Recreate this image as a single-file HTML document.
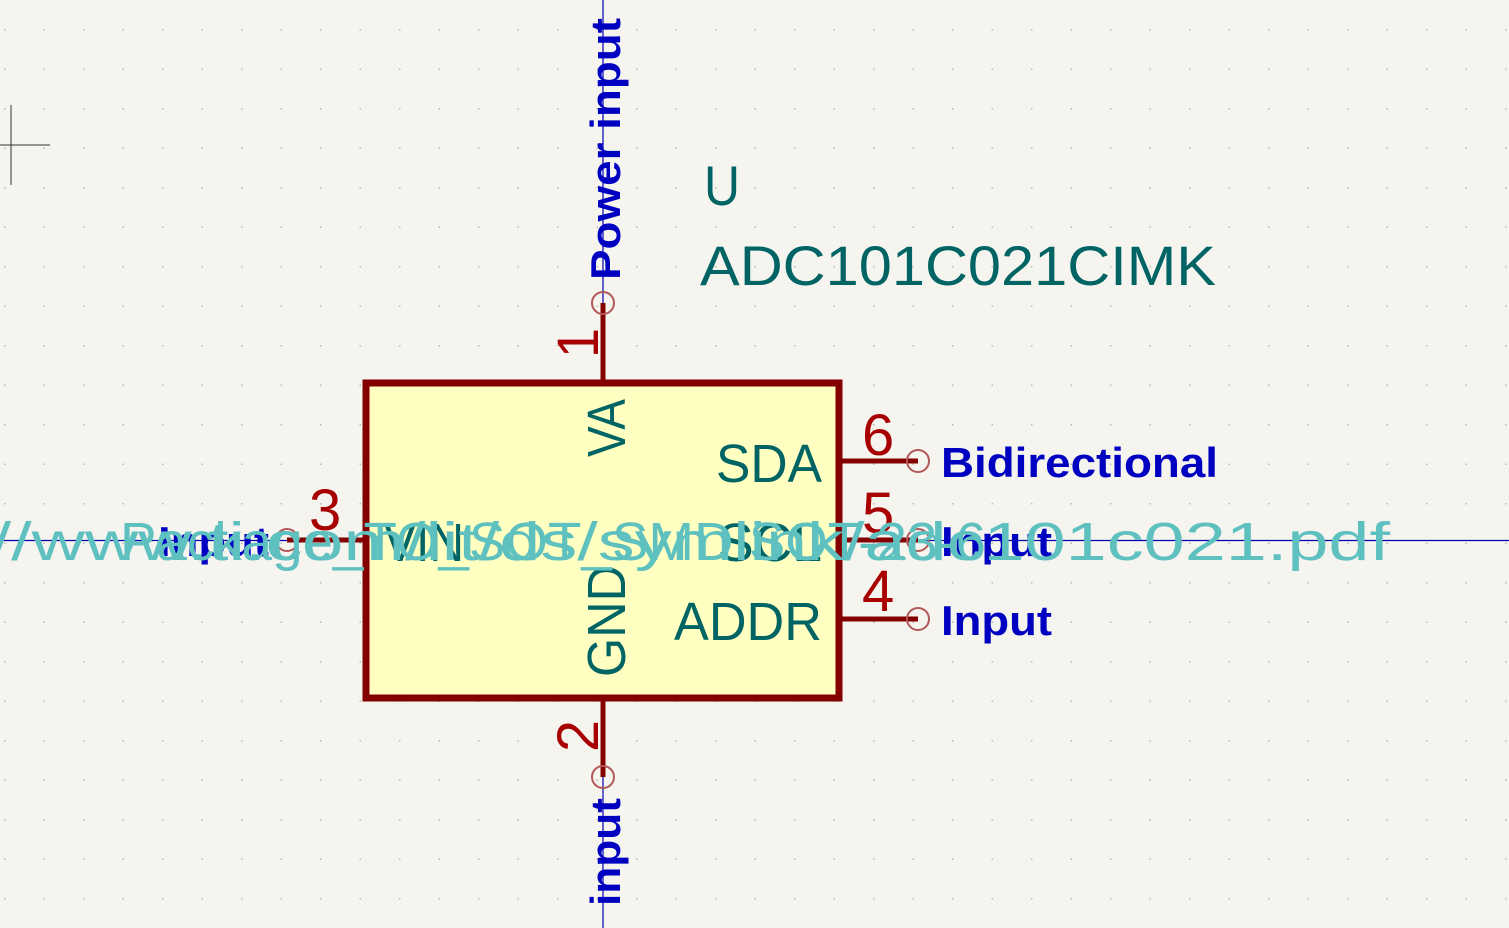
<!DOCTYPE html>
<html><head><style>
html,body{margin:0;padding:0;background:#f5f4ef;}
svg{display:block;}
text{font-family:"Liberation Sans","DejaVu Sans",sans-serif;}
</style></head><body>
<svg width="1509" height="928" viewBox="0 0 1509 928" xmlns="http://www.w3.org/2000/svg">
<defs>
<pattern id="g" x="4" y="29" width="39.5" height="39.5" patternUnits="userSpaceOnUse">
<rect x="0" y="0" width="1.5" height="1.5" fill="#b8b8b4"/>
</pattern>
</defs>
<rect width="1509" height="928" fill="#f5f4ef"/>
<rect width="1509" height="928" fill="url(#g)"/>
<line x1="11" y1="105" x2="11" y2="185" stroke="#333" stroke-width="1"/>
<line x1="0" y1="145" x2="50" y2="145" stroke="#333" stroke-width="1"/>
<line x1="0" y1="540.5" x2="1509" y2="540.5" stroke="#0000b0" stroke-width="1.2"/>
<line x1="603" y1="0" x2="603" y2="928" stroke="#0000b0" stroke-width="1.2"/>
<rect x="366" y="383" width="473" height="315" fill="#ffffc2" stroke="#840000" stroke-width="7"/>
<g stroke="#840000" stroke-width="5">
<line x1="603" y1="303" x2="603" y2="380"/>
<line x1="603" y1="701" x2="603" y2="777"/>
<line x1="287" y1="540" x2="363" y2="540"/>
<line x1="842" y1="461" x2="918" y2="461"/>
<line x1="842" y1="540" x2="918" y2="540"/>
<line x1="842" y1="619" x2="918" y2="619"/>
</g>
<g fill="none" stroke="#b05858" stroke-width="2">
<circle cx="603" cy="303" r="11"/>
<circle cx="603" cy="777" r="11"/>
<circle cx="287" cy="540" r="11"/>
<circle cx="918" cy="461" r="11"/>
<circle cx="918" cy="540" r="11"/>
<circle cx="918" cy="619" r="11"/>
</g>
<g fill="#a80000" font-size="58">
<text x="598" y="358" transform="rotate(-90 598 358)" textLength="30" lengthAdjust="spacingAndGlyphs">1</text>
<text x="598" y="752" transform="rotate(-90 598 752)" textLength="32" lengthAdjust="spacingAndGlyphs">2</text>
<text x="309" y="530">3</text>
<text x="862" y="455">6</text>
<text x="862" y="533">5</text>
<text x="862" y="611">4</text>
</g>
<g fill="#006464" font-size="54">
<text x="625" y="457" transform="rotate(-90 625 457)" textLength="58" lengthAdjust="spacingAndGlyphs">VA</text>
<text x="625" y="677" transform="rotate(-90 625 677)" textLength="112" lengthAdjust="spacingAndGlyphs">GND</text>
<text x="716" y="482" textLength="106" lengthAdjust="spacingAndGlyphs">SDA</text>
<text x="718" y="561" textLength="104" lengthAdjust="spacingAndGlyphs">SCL</text>
<text x="674" y="640" textLength="148" lengthAdjust="spacingAndGlyphs">ADDR</text>
<text x="384" y="561" textLength="80" lengthAdjust="spacingAndGlyphs">VIN</text>
</g>
<g fill="#006464" font-size="56">
<text x="704" y="205" textLength="36" lengthAdjust="spacingAndGlyphs">U</text>
<text x="700" y="285" textLength="516" lengthAdjust="spacingAndGlyphs">ADC101C021CIMK</text>
</g>
<g fill="#0000c0" font-size="42" font-weight="bold">
<text x="620" y="280" transform="rotate(-90 620 280)" textLength="262" lengthAdjust="spacingAndGlyphs">Power input</text>
<text x="620" y="906" transform="rotate(-90 620 906)" textLength="108" lengthAdjust="spacingAndGlyphs">input</text>
<text x="941" y="477" textLength="277" lengthAdjust="spacingAndGlyphs">Bidirectional</text>
<text x="941" y="556" textLength="111" lengthAdjust="spacingAndGlyphs">Input</text>
<text x="941" y="635" textLength="111" lengthAdjust="spacingAndGlyphs">Input</text>
<text x="158" y="556" textLength="111" lengthAdjust="spacingAndGlyphs">Input</text>
</g>
<g fill="#5fc0c0" font-size="54" font-family="Liberation Mono, monospace">
<text x="120" y="560" textLength="866" lengthAdjust="spacingAndGlyphs">Package_TO_SOT_SMD:SOT-23-6</text>
<text x="-190" y="560" textLength="1580" lengthAdjust="spacingAndGlyphs">https://www.ti.com/lit/ds/symlink/adc101c021.pdf</text>
</g>
</svg>
</body></html>
